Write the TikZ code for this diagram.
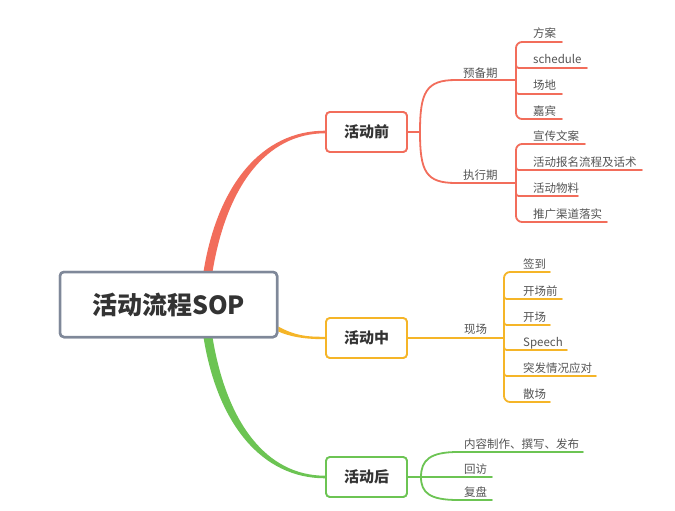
\documentclass[tikz,border=0pt]{standalone}
\usepackage{fontspec}
\setmainfont{Noto Sans CJK SC}
\usetikzlibrary{calc}
\definecolor{cred}{HTML}{F26D5B}
\definecolor{corange}{HTML}{F5B528}
\definecolor{cgreen}{HTML}{6CC453}
\definecolor{cgray}{HTML}{7F8899}
\definecolor{ctext}{HTML}{333333}
\definecolor{clabel}{HTML}{555555}
\begin{document}
\begin{tikzpicture}[x=1pt,y=-1pt,
  rootbox/.style={draw=cgray, line width=2.5pt, rounded corners=4pt, fill=white,
    minimum width=217pt, minimum height=65pt, inner sep=0pt,
    font=\bfseries\fontsize{25}{30}\selectfont, text=ctext},
  mainbox/.style={draw=#1, line width=1.8pt, rounded corners=4pt, fill=white,
    minimum width=81pt, minimum height=40pt, inner sep=0pt,
    font=\bfseries\fontsize{15}{18}\selectfont, text=ctext},
  lbl/.style={font=\fontsize{11.5}{13}\selectfont, text=clabel, inner sep=0pt, anchor=base west},
  branch/.style={draw=#1, line width=1.8pt, line cap=round, line join=round}]
\useasboundingbox[fill=white] (0,0) rectangle (675,511);

% main nodes (named, placed first so connectors can refer to them)
\node[rootbox] (root) at (168.5,304.5) {活动流程SOP};
\node[mainbox=cred] (pre) at (366.5,132) {活动前};
\node[mainbox=corange] (mid) at (366.5,338) {活动中};
\node[mainbox=cgreen] (post) at (366.5,477) {活动后};

% tapered main connectors
\fill[cred] ($(root.north)+(35,1)$) .. controls ($(root.north)+(49,-86)$) and (262,130.7) .. ($(pre.west)+(0,-1.3)$)
  -- ($(pre.west)+(0,1.3)$) .. controls (266,133.3) and ($(root.north)+(58,-84)$) .. ($(root.north)+(44,1)$) -- cycle;
\fill[cgreen] ($(root.south)+(35,-1)$) .. controls ($(root.south)+(49,86)$) and (262,478.3) .. ($(post.west)+(0,1.3)$)
  -- ($(post.west)+(0,-1.3)$) .. controls (266,475.7) and ($(root.south)+(58,84)$) .. ($(root.south)+(44,-1)$) -- cycle;
\fill[corange] ($(root.east)+(0,22)$) .. controls (295,335.5) and (305,336.8) .. ($(mid.west)+(0,-1.2)$)
  -- ($(mid.west)+(0,1.2)$) .. controls (303,339.2) and (290,336.5) .. ($(root.east)+(0,27)$) -- cycle;
% boxes redrawn on top of the connector ends
\node[rootbox] at (root) {活动流程SOP};
\node[mainbox=cred] at (pre) {活动前};
\node[mainbox=corange] at (mid) {活动中};
\node[mainbox=cgreen] at (post) {活动后};

% ---------------- 活动前 ----------------
\coordinate (jpre) at (420,132);
\draw[branch=cred] (pre.east) -- (jpre);
\node[lbl] (ybq) at (463,77.5) {预备期};
\node[lbl] (zxq) at (463,179.5) {执行期};
\draw[branch=cred] (jpre) .. controls (420,92) and (426,80) .. (456,80) -- (516,80);
\draw[branch=cred] (jpre) .. controls (420,172) and (426,183) .. (456,183) -- (516,183);
% bracket 1
\draw[branch=cred, rounded corners=6pt] (562,42) -- (516,42) -- (516,119) -- (562,119);
\draw[branch=cred] (516,62) .. controls (516,68) .. (522,68) -- (587,68);
\draw[branch=cred] (516,88) .. controls (516,94) .. (522,94) -- (562,94);
\node[lbl] (l1) at (533,38) {方案};
\node[lbl] (l2) at (533,64) {schedule};
\node[lbl] (l3) at (533,90) {场地};
\node[lbl] (l4) at (533,115) {嘉宾};
% bracket 2
\draw[branch=cred, rounded corners=6pt] (585,144) -- (516,144) -- (516,222) -- (607,222);
\draw[branch=cred] (516,164) .. controls (516,170) .. (522,170) -- (642,170);
\draw[branch=cred] (516,190) .. controls (516,196) .. (522,196) -- (578,196);
\node[lbl] (l5) at (533,140) {宣传文案};
\node[lbl] (l6) at (533,166) {活动报名流程及话术};
\node[lbl] (l7) at (533,192) {活动物料};
\node[lbl] (l8) at (533,218) {推广渠道落实};

% ---------------- 活动中 ----------------
\coordinate (jmid) at (504,338);
\node[lbl] (xc) at (464,333.5) {现场};
\draw[branch=corange] (mid.east) -- (jmid);
\draw[branch=corange, rounded corners=6pt] (550,272) -- (504,272) -- (504,402) -- (550,402);
\draw[branch=corange] (504,293) .. controls (504,299) .. (510,299) -- (562,299);
\draw[branch=corange] (504,319) .. controls (504,325) .. (510,325) -- (550,325);
\draw[branch=corange] (504,344) .. controls (504,350) .. (510,350) -- (567,350);
\draw[branch=corange] (504,370) .. controls (504,376) .. (510,376) -- (596,376);
\node[lbl] (m1) at (523,268) {签到};
\node[lbl] (m2) at (523,295) {开场前};
\node[lbl] (m3) at (523,321) {开场};
\node[lbl] (m4) at (523,346) {Speech};
\node[lbl] (m5) at (523,372) {突发情况应对};
\node[lbl] (m6) at (523,398) {散场};

% ---------------- 活动后 ----------------
\coordinate (jpost) at (421,477);
\draw[branch=cgreen] (post.east) -- (jpost) -- (492,477);
\draw[branch=cgreen] (jpost) .. controls (421,460) and (430,452) .. (458,452) -- (583,452);
\draw[branch=cgreen] (jpost) .. controls (421,493) and (430,500) .. (458,500) -- (492,500);
\node[lbl] (p1) at (464,448) {内容制作、撰写、发布};
\node[lbl] (p2) at (464,473) {回访};
\node[lbl] (p3) at (464,496.5) {复盘};
\end{tikzpicture}
\end{document}
